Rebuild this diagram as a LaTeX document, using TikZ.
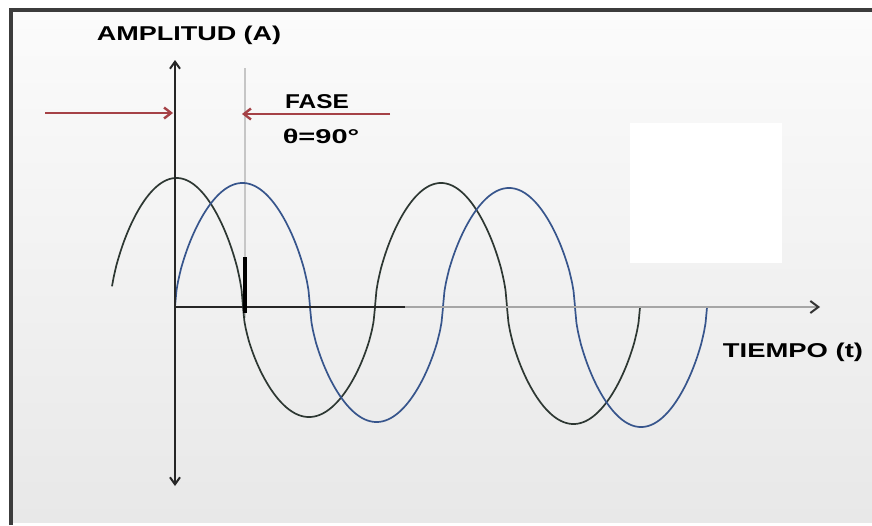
\documentclass[tikz,border=0pt]{standalone}
\usepackage{fontspec}
\setmainfont{Liberation Sans}
\usetikzlibrary{arrows.meta}
\definecolor{wblack}{RGB}{45,55,50}
\definecolor{wblue}{RGB}{55,85,140}
\definecolor{ared}{RGB}{165,65,70}
\definecolor{bggrey}{RGB}{232,232,232}
\definecolor{frame}{RGB}{60,60,60}
\begin{document}
\begin{tikzpicture}[x=1pt,y=-1pt,
  declare function={hw(\t)=pow(max(sin(\t),0.0001),0.6);},
  wave/.style={line width=1.7pt},
  axisline/.style={line width=2pt, draw=black!85},
  redarrow/.style={line width=2.4pt, draw=ared, -{Straight Barb[length=7pt,width=11pt]}},
  lbl/.style={inner sep=0pt, font=\bfseries\fontsize{20}{20}\selectfont}
]
\useasboundingbox (0,0) rectangle (872,525);
\fill[white] (0,0) rectangle (872,525);
\shade[top color=white!97!gray, bottom color=bggrey] (12,11) rectangle (872,522);
\fill[white] (630,123) rectangle (782,263);
\draw[line width=3.5pt, frame] (11,525) -- (11,10) -- (872,10);

% coordinates
\coordinate (vtop) at (175,60);
\coordinate (vbot) at (175,486);
\coordinate (o) at (175,307);
\coordinate (hmid) at (405,307);
\coordinate (hend) at (820,307);
\coordinate (g1) at (245,68);
\coordinate (g2) at (245,318);
\coordinate (k1) at (245,257);
\coordinate (k2) at (245,313);
\coordinate (r1s) at (45,113);
\coordinate (r1e) at (173,113);
\coordinate (r2s) at (390,114);
\coordinate (r2e) at (242,114);

% grey phase line
\draw[line width=1.5pt, gray!45] (g1) -- (g2);

% black wave
\draw[wave, wblack]
  plot[domain=112:243, samples=90] (\x,{307-129*hw((\x-110)/133*180)})
  -- plot[domain=243:375, samples=90] (\x,{307+110*hw((\x-243)/132*180)})
  -- plot[domain=375:507, samples=90] (\x,{307-124*hw((\x-375)/132*180)})
  -- plot[domain=507:640, samples=90] (\x,{307+117*hw((\x-507)/133*180)});

% blue wave
\draw[wave, wblue]
  plot[domain=175:310, samples=90] (\x,{307-124*hw((\x-175)/135*180)})
  -- plot[domain=310:443, samples=90] (\x,{307+115*hw((\x-310)/133*180)})
  -- plot[domain=443:575, samples=90] (\x,{307-119*hw((\x-443)/132*180)})
  -- plot[domain=575:707, samples=90] (\x,{307+120*hw((\x-575)/132*180)});

% axes
\draw[axisline, {Straight Barb[length=7pt,width=10pt]}-{Straight Barb[length=7pt,width=10pt]}] (vtop) -- (vbot);
\draw[axisline] (o) -- (hmid);
\draw[line width=2pt, draw=gray!70, -{Straight Barb[length=8pt,width=12pt,color=gray!40!black]}] (hmid) -- (hend);

% thick mark
\draw[line width=4pt, black] (k1) -- (k2);

% red arrows
\draw[redarrow] (r1s) -- (r1e);
\draw[redarrow] (r2s) -- (r2e);

% labels
\node[lbl] (amp) at (189,35) {\scalebox{1.35}[1]{AMPLITUD (A)}};
\node[lbl] (fase) at (317,102) {\scalebox{1.22}[1]{FASE}};
\node[lbl] (theta) at (321,136) {\scalebox{1.45}[1]{θ=90°}};
\node[lbl] (tiempo) at (793,352) {\scalebox{1.37}[1]{TIEMPO (t)}};
\end{tikzpicture}
\end{document}
